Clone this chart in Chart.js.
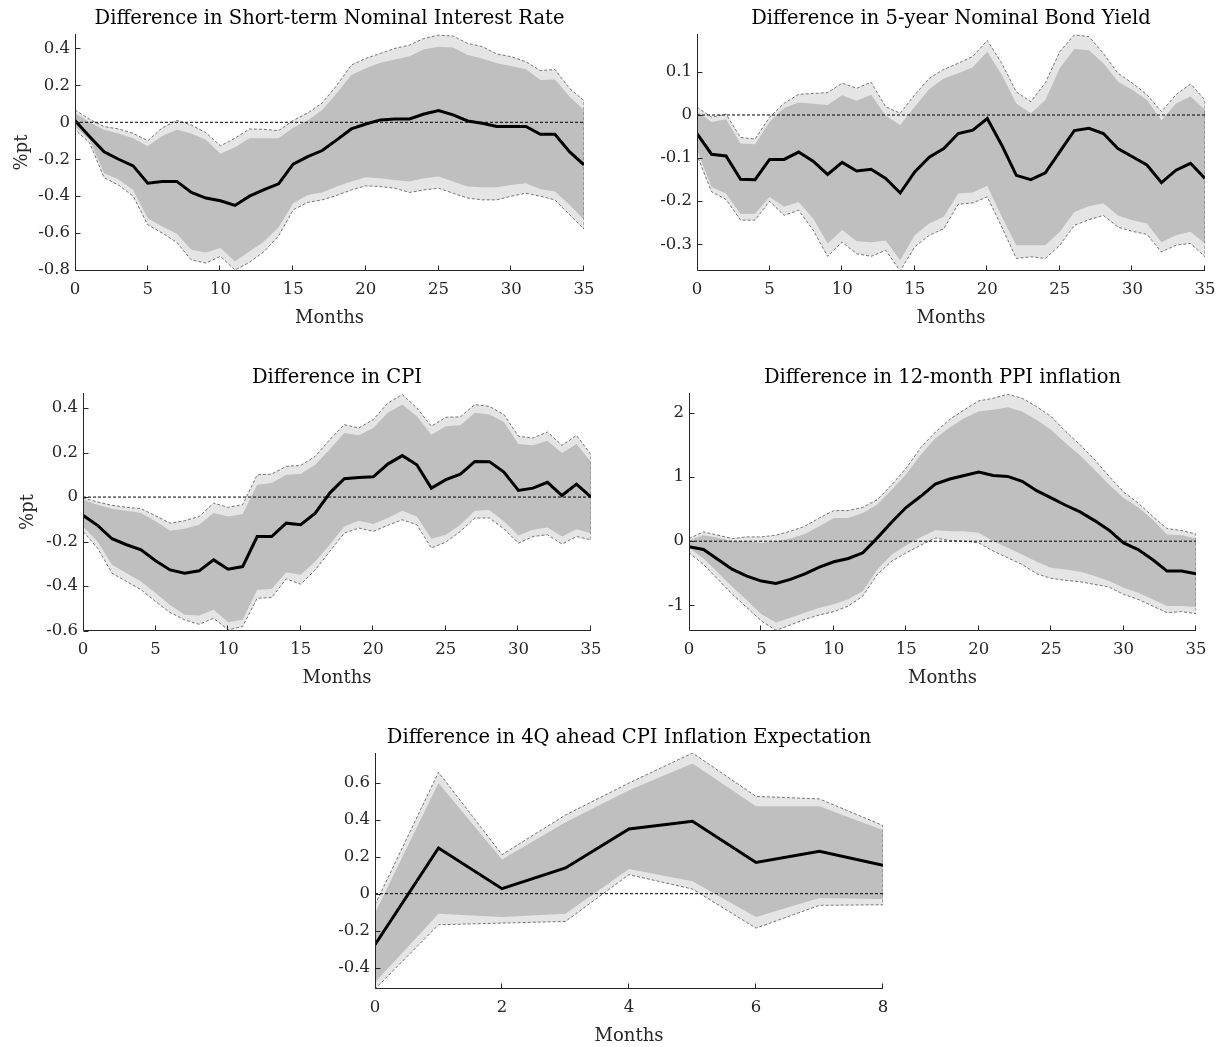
<!DOCTYPE html>
<html>
<head>
<meta charset="utf-8">
<script src="https://cdn.jsdelivr.net/npm/chart.js@4.4.1/dist/chart.umd.min.js"></script>
<style>
  body { margin: 0; background: #fff; width: 1225px; height: 1047px; position: relative; overflow: hidden; }
  canvas { position: absolute; }
</style>
</head>
<body>
<canvas id="c1" width="599" height="327" style="left:5px;top:2px"></canvas>
<canvas id="c2" width="598" height="327" style="left:627px;top:2px"></canvas>
<canvas id="c3" width="598" height="328" style="left:13px;top:361px"></canvas>
<canvas id="c4" width="597" height="328" style="left:619px;top:361px"></canvas>
<canvas id="c5" width="598" height="326" style="left:305px;top:721px"></canvas>
<script>
// months on the x axis
const months = [0, 1, 2, 3, 4, 5, 6, 7, 8, 9, 10, 11, 12, 13, 14, 15, 16, 17, 18, 19, 20, 21, 22, 23, 24, 25, 26, 27, 28, 29, 30, 31, 32, 33, 34, 35];
const months5 = [0, 1, 2, 3, 4, 5, 6, 7, 8];

// 1) short-term nominal interest rate
const rateMean = [0.01, -0.077, -0.16, -0.2, -0.236, -0.33, -0.32, -0.32, -0.38, -0.41, -0.425, -0.45, -0.40, -0.365, -0.333, -0.227, -0.186, -0.153, -0.095, -0.036, -0.009, 0.013, 0.018, 0.018, 0.045, 0.063, 0.04, 0.007, -0.005, -0.023, -0.023, -0.023, -0.065, -0.065, -0.159, -0.23];
const rateUpOut = [0.067, 0.016, -0.023, -0.036, -0.06, -0.1, -0.03, 0.01, -0.015, -0.056, -0.128, -0.086, -0.036, -0.038, -0.045, 0.01, 0.05, 0.105, 0.2, 0.31, 0.346, 0.373, 0.4, 0.418, 0.454, 0.472, 0.467, 0.427, 0.41, 0.37, 0.355, 0.328, 0.28, 0.286, 0.184, 0.117];
const rateUpIn = [0.05, 0.0, -0.04, -0.06, -0.086, -0.13, -0.074, -0.04, -0.06, -0.095, -0.17, -0.135, -0.086, -0.086, -0.086, -0.03, 0.01, 0.067, 0.157, 0.256, 0.292, 0.322, 0.34, 0.357, 0.395, 0.409, 0.405, 0.364, 0.346, 0.319, 0.305, 0.287, 0.229, 0.232, 0.139, 0.067];
const rateLoIn = [-0.023, -0.095, -0.276, -0.31, -0.366, -0.519, -0.564, -0.604, -0.69, -0.705, -0.68, -0.753, -0.699, -0.645, -0.568, -0.438, -0.393, -0.38, -0.348, -0.321, -0.297, -0.303, -0.312, -0.321, -0.303, -0.294, -0.321, -0.348, -0.351, -0.351, -0.339, -0.33, -0.362, -0.375, -0.447, -0.528];
const rateLoOut = [-0.04, -0.11, -0.3, -0.34, -0.4, -0.555, -0.6, -0.65, -0.745, -0.762, -0.726, -0.8, -0.758, -0.7, -0.615, -0.474, -0.434, -0.42, -0.396, -0.366, -0.344, -0.348, -0.357, -0.38, -0.366, -0.357, -0.384, -0.41, -0.42, -0.42, -0.4, -0.384, -0.4, -0.42, -0.5, -0.578];

// 2) 5-year nominal bond yield
const bondMean = [-0.043, -0.091, -0.095, -0.149, -0.15, -0.103, -0.103, -0.086, -0.107, -0.138, -0.11, -0.13, -0.126, -0.147, -0.181, -0.132, -0.098, -0.078, -0.043, -0.035, -0.008, -0.07, -0.14, -0.15, -0.134, -0.085, -0.036, -0.031, -0.043, -0.078, -0.097, -0.116, -0.157, -0.128, -0.112, -0.147];
const bondUpOut = [0.018, -0.005, 0.002, -0.052, -0.056, -0.005, 0.027, 0.048, 0.05, 0.052, 0.074, 0.062, 0.076, 0.019, 0.004, 0.047, 0.085, 0.106, 0.12, 0.136, 0.173, 0.12, 0.054, 0.031, 0.075, 0.147, 0.186, 0.182, 0.143, 0.097, 0.074, 0.047, 0.008, 0.047, 0.072, 0.035];
const bondUpIn = [0.008, -0.016, -0.01, -0.066, -0.068, -0.016, 0.016, 0.029, 0.026, 0.023, 0.046, 0.033, 0.047, -0.002, -0.023, 0.019, 0.06, 0.085, 0.097, 0.111, 0.147, 0.093, 0.027, 0.004, 0.035, 0.109, 0.153, 0.15, 0.12, 0.078, 0.058, 0.035, -0.012, 0.027, 0.043, 0.012];
const bondLoIn = [-0.081, -0.167, -0.182, -0.23, -0.229, -0.19, -0.213, -0.202, -0.24, -0.298, -0.267, -0.293, -0.295, -0.291, -0.337, -0.279, -0.252, -0.236, -0.182, -0.18, -0.164, -0.236, -0.302, -0.302, -0.302, -0.271, -0.225, -0.212, -0.205, -0.233, -0.244, -0.252, -0.295, -0.279, -0.271, -0.298];
const bondLoOut = [-0.093, -0.178, -0.196, -0.244, -0.244, -0.2, -0.233, -0.221, -0.267, -0.328, -0.295, -0.322, -0.328, -0.314, -0.362, -0.306, -0.279, -0.264, -0.207, -0.204, -0.19, -0.26, -0.333, -0.329, -0.333, -0.302, -0.256, -0.243, -0.233, -0.26, -0.27, -0.277, -0.318, -0.302, -0.298, -0.329];

// 3) CPI
const cpiMean = [-0.082, -0.127, -0.187, -0.214, -0.237, -0.286, -0.327, -0.342, -0.331, -0.282, -0.324, -0.312, -0.177, -0.177, -0.117, -0.124, -0.072, 0.018, 0.082, 0.088, 0.091, 0.148, 0.186, 0.145, 0.04, 0.078, 0.103, 0.16, 0.159, 0.112, 0.03, 0.04, 0.066, 0.007, 0.058, 0];
const cpiUpOut = [-0.004, -0.022, -0.037, -0.046, -0.052, -0.084, -0.117, -0.106, -0.087, -0.027, -0.046, -0.034, 0.1, 0.103, 0.138, 0.142, 0.183, 0.258, 0.325, 0.31, 0.348, 0.422, 0.46, 0.4, 0.318, 0.358, 0.36, 0.415, 0.407, 0.37, 0.273, 0.265, 0.292, 0.232, 0.277, 0.19];
const cpiUpIn = [-0.012, -0.034, -0.052, -0.061, -0.072, -0.109, -0.151, -0.142, -0.124, -0.072, -0.087, -0.076, 0.055, 0.063, 0.1, 0.103, 0.145, 0.213, 0.288, 0.277, 0.31, 0.378, 0.415, 0.363, 0.28, 0.318, 0.322, 0.378, 0.37, 0.337, 0.238, 0.232, 0.253, 0.198, 0.238, 0.157];
const cpiLoIn = [-0.132, -0.199, -0.304, -0.342, -0.379, -0.431, -0.484, -0.528, -0.531, -0.506, -0.562, -0.551, -0.416, -0.412, -0.337, -0.349, -0.289, -0.214, -0.132, -0.106, -0.121, -0.094, -0.061, -0.087, -0.187, -0.169, -0.124, -0.061, -0.058, -0.109, -0.172, -0.147, -0.136, -0.177, -0.144, -0.162];
const cpiLoOut = [-0.154, -0.229, -0.342, -0.379, -0.416, -0.469, -0.518, -0.551, -0.571, -0.544, -0.596, -0.581, -0.454, -0.451, -0.367, -0.391, -0.327, -0.244, -0.162, -0.139, -0.154, -0.127, -0.102, -0.124, -0.229, -0.202, -0.154, -0.094, -0.094, -0.142, -0.207, -0.177, -0.169, -0.211, -0.177, -0.192];

// 4) 12-month PPI inflation
const ppiMean = [-0.088, -0.13, -0.285, -0.44, -0.544, -0.622, -0.658, -0.596, -0.508, -0.404, -0.321, -0.269, -0.181, 0.052, 0.3, 0.528, 0.7, 0.89, 0.97, 1.025, 1.078, 1.025, 1.01, 0.933, 0.788, 0.674, 0.56, 0.456, 0.321, 0.171, -0.026, -0.13, -0.285, -0.466, -0.466, -0.508];
const ppiUpOut = [0.041, 0.145, 0.093, 0.041, 0.067, 0.067, 0.093, 0.155, 0.233, 0.363, 0.477, 0.477, 0.528, 0.648, 0.881, 1.14, 1.46, 1.7, 1.9, 2.047, 2.187, 2.228, 2.29, 2.228, 2.098, 1.943, 1.71, 1.503, 1.269, 1.01, 0.767, 0.596, 0.389, 0.197, 0.166, 0.114];
const ppiUpIn = [0.01, 0.093, 0.052, 0, 0, -0.026, 0, 0.041, 0.114, 0.233, 0.363, 0.363, 0.44, 0.57, 0.803, 1.047, 1.347, 1.6, 1.772, 1.917, 2.02, 2.047, 2.088, 2.02, 1.891, 1.736, 1.528, 1.337, 1.114, 0.881, 0.674, 0.528, 0.337, 0.104, 0.093, 0.041];
const ppiLoIn = [-0.104, -0.269, -0.492, -0.715, -0.922, -1.14, -1.269, -1.192, -1.114, -1.036, -0.984, -0.907, -0.777, -0.44, -0.207, -0.062, 0.062, 0.17, 0.155, 0.155, 0.13, 0, -0.104, -0.207, -0.321, -0.415, -0.44, -0.477, -0.544, -0.622, -0.725, -0.803, -0.907, -1.01, -1.01, -1.026];
const ppiLoOut = [-0.181, -0.363, -0.596, -0.829, -1.036, -1.244, -1.389, -1.306, -1.218, -1.15, -1.098, -1.01, -0.855, -0.518, -0.311, -0.181, -0.062, 0.05, 0.01, 0, -0.026, -0.155, -0.259, -0.363, -0.508, -0.58, -0.611, -0.632, -0.674, -0.715, -0.829, -0.907, -1.01, -1.114, -1.098, -1.13];

// 5) 4Q ahead CPI inflation expectation
const expMean = [-0.276, 0.247, 0.027, 0.139, 0.35, 0.391, 0.169, 0.229, 0.153];
const expUpOut = [-0.06, 0.656, 0.211, 0.425, 0.598, 0.76, 0.526, 0.512, 0.368];
const expUpIn = [-0.105, 0.598, 0.184, 0.386, 0.559, 0.703, 0.472, 0.472, 0.342];
const expLoIn = [-0.479, -0.108, -0.126, -0.108, 0.133, 0.067, -0.126, -0.023, -0.029];
const expLoOut = [-0.515, -0.168, -0.159, -0.15, 0.103, 0.025, -0.186, -0.063, -0.06];

const FONT = 'DejaVu Serif';
const AXIS = '#262626';

Chart.defaults.font.family = FONT;
Chart.defaults.color = AXIS;

function pts(xs, ys) {
    return ys.map((v, i) => ({ x: xs[i], y: v }));
}

// closed dashed border of the outer band
function outline(xs, up, lo) {
    const a = pts(xs, up);
    const b = pts(xs, lo).reverse();
    return a.concat(b, [a[0]]);
}

// MATLAB style: axis lines on top, ticks pointing inside
const axesOnTop = {
    id: 'axesOnTop',
    afterDatasetsDraw(chart) {
        const { ctx, chartArea, scales } = chart;
        const L = Math.round(chartArea.left) + 0.5;
        const B = Math.round(chartArea.bottom) - 0.5;
        ctx.save();
        ctx.strokeStyle = AXIS;
        ctx.lineWidth = 1;
        ctx.beginPath();
        ctx.moveTo(L, chartArea.top);
        ctx.lineTo(L, B);
        ctx.lineTo(chartArea.right, B);
        scales.x.ticks.forEach(t => {
            const px = Math.round(scales.x.getPixelForValue(t.value)) - 0.5;
            if (px > L + 1) {
                ctx.moveTo(px, B);
                ctx.lineTo(px, B - 5);
            }
        });
        scales.y.ticks.forEach(t => {
            const py = Math.round(scales.y.getPixelForValue(t.value)) + 0.5;
            ctx.moveTo(L, py);
            ctx.lineTo(L + 5, py);
        });
        ctx.stroke();
        ctx.restore();
    }
};

function noPad(s) {
    s.paddingLeft = 0; s.paddingRight = 0; s.paddingTop = 0; s.paddingBottom = 0;
}

function makePanel(id, title, xs, mean, upIn, loIn, upOut, loOut, yMin, yMax, yStep, xStep, yTitlePad) {
    const zero = [{ x: xs[0], y: 0 }, { x: xs[xs.length - 1], y: 0 }];
    const none = 'rgba(0,0,0,0)';
    new Chart(document.getElementById(id), {
        type: 'line',
        data: {
            datasets: [
                { data: pts(xs, mean), borderColor: '#000', borderWidth: 3 },
                { data: zero, borderColor: '#000', borderWidth: 1, borderDash: [3, 2] },
                { data: outline(xs, upOut, loOut), borderColor: '#555', borderWidth: 0.8, borderDash: [3, 2] },
                { data: pts(xs, upIn), borderColor: none, borderWidth: 0, backgroundColor: '#bfbfbf', fill: '+1' },
                { data: pts(xs, loIn), borderColor: none, borderWidth: 0 },
                { data: pts(xs, upOut), borderColor: none, borderWidth: 0, backgroundColor: '#e5e5e5', fill: '+1' },
                { data: pts(xs, loOut), borderColor: none, borderWidth: 0 }
            ]
        },
        options: {
            responsive: false,
            animation: false,
            devicePixelRatio: 1,
            layout: { padding: { left: 0, right: 20, top: 0, bottom: 0 } },
            elements: { point: { radius: 0 }, line: { tension: 0, fill: false } },
            plugins: {
                legend: { display: false },
                tooltip: { enabled: false },
                title: {
                    display: true,
                    text: title,
                    fullSize: false,
                    color: '#000',
                    font: { family: FONT, size: 19.5, weight: 'normal', lineHeight: '22px' },
                    padding: { top: 6, bottom: 4 }
                }
            },
            scales: {
                x: {
                    type: 'linear',
                    min: xs[0],
                    max: xs[xs.length - 1],
                    grid: { display: false, drawTicks: false },
                    border: { display: false },
                    ticks: { stepSize: xStep, includeBounds: false, font: { size: 16.5 }, padding: 9, maxRotation: 0, autoSkip: false },
                    title: { display: true, text: 'Months', font: { size: 18 }, padding: { top: 0, bottom: 0 } },
                    afterFit(s) { s.height = 58; noPad(s); }
                },
                y: {
                    min: yMin,
                    max: yMax,
                    grid: { display: false, drawTicks: false },
                    border: { display: false },
                    ticks: {
                        stepSize: yStep,
                        includeBounds: false,
                        font: { size: 16.5 },
                        padding: 5,
                        callback: v => String(Number(v.toFixed(2)))
                    },
                    title: { display: yTitlePad !== null, text: '%pt', font: { size: 18 }, padding: { top: yTitlePad || 0 } },
                    afterFit(s) { s.width = 70; noPad(s); }
                }
            }
        },
        plugins: [axesOnTop]
    });
}

makePanel('c1', 'Difference in Short-term Nominal Interest Rate', months,
    rateMean, rateUpIn, rateLoIn, rateUpOut, rateLoOut, -0.805, 0.478, 0.2, 5, 7);
makePanel('c2', 'Difference in 5-year Nominal Bond Yield', months,
    bondMean, bondUpIn, bondLoIn, bondUpOut, bondLoOut, -0.362, 0.188, 0.1, 5, null);
makePanel('c3', 'Difference in CPI', months,
    cpiMean, cpiUpIn, cpiLoIn, cpiUpOut, cpiLoOut, -0.601, 0.467, 0.2, 5, 5);
makePanel('c4', 'Difference in 12-month PPI inflation', months,
    ppiMean, ppiUpIn, ppiLoIn, ppiUpOut, ppiLoOut, -1.4, 2.31, 1, 5, null);
makePanel('c5', 'Difference in 4Q ahead CPI Inflation Expectation', months5,
    expMean, expUpIn, expLoIn, expUpOut, expLoOut, -0.515, 0.76, 0.2, 2, null);
</script>
</body>
</html>
